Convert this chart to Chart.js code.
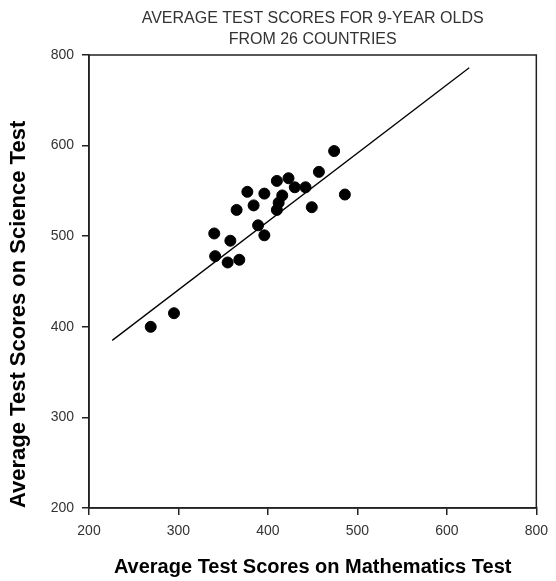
<!DOCTYPE html>
<html>
<head>
<meta charset="utf-8">
<script src="https://cdn.jsdelivr.net/npm/chart.js@4.4.1/dist/chart.umd.min.js"></script>
<style>
  html, body { margin:0; padding:0; background:#fff; }
  #wrap { width:556px; height:581px; }
</style>
</head>
<body>
<div id="wrap"><canvas id="c"></canvas></div>
<script>
// Average test scores for 9-year olds, one dot per country
const mathScores = [269, 295, 340, 341, 355, 358, 368, 365, 377, 384, 389, 396,
                    396, 410, 423, 430, 442, 416, 412, 410, 457, 449, 486, 474];
const scienceScores = [400, 415, 503, 478, 471, 495, 474, 529, 549, 534, 512, 501,
                       547, 561, 564, 554, 554, 545, 537, 529, 571, 532, 546, 594];

// fitted line end points
const fitX = [226, 625];
const fitY = [385, 686];

const tickValues = [200, 300, 400, 500, 600, 700];
// the top/right tick is printed as 800 in the original
const tickLabels = ['200', '300', '400', '500', '600', '800'];

const titleLines = ['AVERAGE TEST SCORES FOR 9-YEAR OLDS', 'FROM 26 COUNTRIES'];

const FONT = '"Liberation Sans", Arial, Helvetica, sans-serif';
const INK = '#222';

const points = mathScores.map((x, i) => ({ x: x, y: scienceScores[i] }));
const fitLine = fitX.map((x, i) => ({ x: x, y: fitY[i] }));

const frameAndTitle = {
    id: 'frameAndTitle',
    afterDraw(chart) {
        const { ctx, chartArea: a } = chart;
        ctx.save();
        ctx.strokeStyle = INK;
        ctx.lineWidth = 1.5;
        ctx.strokeRect(a.left, a.top, a.right - a.left, a.bottom - a.top);
        ctx.fillStyle = '#333';
        ctx.font = '16px ' + FONT;
        ctx.textAlign = 'center';
        ctx.textBaseline = 'middle';
        const cx = (a.left + a.right) / 2;
        titleLines.forEach((t, i) => ctx.fillText(t, cx, 19 + i * 21));
        ctx.restore();
    }
};

function tickCb(v) {
    const i = tickValues.indexOf(v);
    return i >= 0 ? tickLabels[i] : '';
}

new Chart(document.getElementById('c'), {
    type: 'scatter',
    data: {
        datasets: [
            {
                label: 'Countries',
                data: points,
                backgroundColor: '#000',
                borderColor: '#000',
                pointRadius: 5.5,
                pointHoverRadius: 5.5
            },
            {
                type: 'line',
                label: 'Fit',
                data: fitLine,
                borderColor: '#000',
                borderWidth: 1.3,
                pointRadius: 0,
                fill: false
            }
        ]
    },
    options: {
        responsive: true, maintainAspectRatio: false,
        animation: false,
        layout: { padding: { top: 55, right: 12, bottom: 2, left: 0 } },
        plugins: { legend: { display: false }, tooltip: { enabled: false } },
        scales: {
            x: {
                type: 'linear', min: 200, max: 700,
                afterBuildTicks: s => { s.ticks = tickValues.map(v => ({ value: v })); },
                afterFit: s => { s.height = 71; },
                border: { color: INK, width: 1.5 },
                grid: { drawOnChartArea: false, drawTicks: true, tickLength: 7, color: INK, lineWidth: 1.5 },
                ticks: { callback: tickCb, color: '#333', font: { family: FONT, size: 14 }, padding: 8, maxRotation: 0 },
                title: { display: true, text: 'Average Test Scores on Mathematics Test', color: '#000',
                         font: { family: FONT, size: 20, weight: 'bold' }, padding: { top: 8, bottom: 0 } }
            },
            y: {
                type: 'linear', min: 200, max: 700,
                afterBuildTicks: s => { s.ticks = tickValues.map(v => ({ value: v })); },
                afterFit: s => { s.width = 89; },
                border: { color: INK, width: 1.5 },
                grid: { drawOnChartArea: false, drawTicks: true, tickLength: 7, color: INK, lineWidth: 1.5 },
                ticks: { callback: tickCb, color: '#333', font: { family: FONT, size: 14 }, padding: 8 },
                title: { display: true, text: 'Average Test Scores on Science Test', color: '#000', align: 'start',
                         font: { family: FONT, size: 22, weight: 'bold' }, padding: { top: 6, bottom: 2 } }
            }
        }
    },
    plugins: [frameAndTitle]
});
</script>
</body>
</html>
